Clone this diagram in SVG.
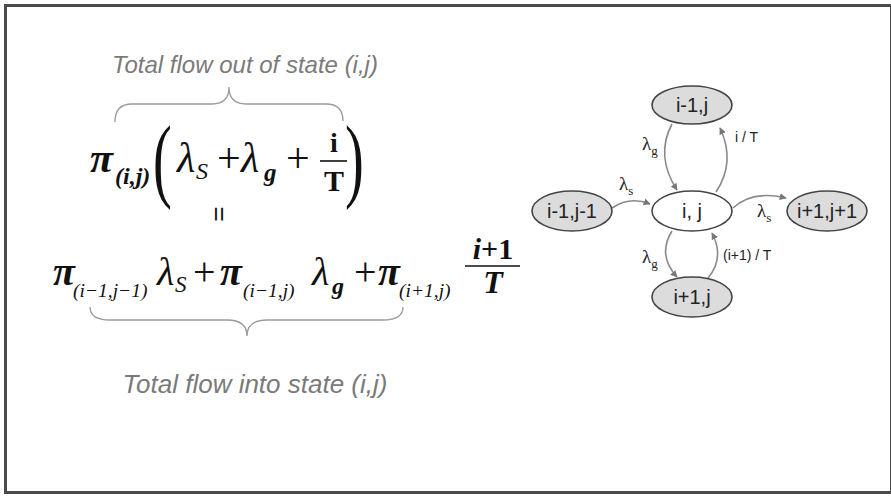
<svg xmlns="http://www.w3.org/2000/svg" width="891" height="496" viewBox="0 0 891 496">
<defs>
<style>
.math{font-family:"Liberation Serif","Times New Roman",serif;fill:#111}
.gr{font-family:"Liberation Serif",serif;font-style:italic;font-weight:bold}
.lm{font-family:"Liberation Serif",serif;font-style:italic}
.sub{font-family:"Liberation Serif",serif;font-style:italic;font-weight:bold}
.sub2{font-family:"Liberation Serif",serif;font-style:italic}
.cap{font-family:"Liberation Sans",Arial,sans-serif;font-style:italic;fill:#7a7a7a}
.brace{fill:none;stroke:#9a9a9a;stroke-width:1.3}
.node ellipse{stroke:#444;stroke-width:1.6}
.node text{font-family:"Liberation Sans",Arial,sans-serif;font-size:20px;fill:#222;text-anchor:middle}
.edge{fill:none;stroke:#8a8a8a;stroke-width:1.6;marker-end:url(#ah)}
.lbl{font-family:"Liberation Sans",Arial,sans-serif;font-size:14px;fill:#222}
.lam{font-family:"Liberation Serif",serif;font-size:19px;fill:#222}
</style>
<marker id="ah" viewBox="0 0 10 10" refX="9" refY="5" markerWidth="7" markerHeight="7" orient="auto" markerUnits="userSpaceOnUse">
<path d="M0,0 L10,5 L0,10 z" fill="#777"/>
</marker>
</defs>
<rect x="0" y="0" width="891" height="496" fill="#fff"/>
<rect x="5.5" y="5.5" width="886" height="487" fill="none" stroke="#4a4a4a" stroke-width="3"/>

<g id="caption-out">
<text class="cap" x="245" y="73" font-size="24" text-anchor="middle">Total flow out of state (i,j)</text>
<path class="brace" d="M115,122 Q115,104 132,104 L212,104 Q229,104 229,87 Q229,104 246,104 L326,104 Q343,104 343,121"/>
</g>

<g id="equation-out" class="math">
<text class="gr" x="90" y="172" font-size="42">π</text>
<text class="sub" x="115" y="184" font-size="24">(i,j)</text>
<text x="0" y="0" font-size="94" transform="translate(153,190) scale(0.6,1)">(</text>
<text class="lm" x="177" y="172" font-size="42">λ</text>
<text x="196" y="179" font-size="24" font-style="italic">S</text>
<text x="217" y="172" font-size="42">+</text>
<text class="lm" x="241" y="172" font-size="42">λ</text>
<text x="264" y="181" font-size="25" font-style="italic" font-weight="bold">g</text>
<text x="286" y="172" font-size="42">+</text>
<text x="334" y="152" font-size="28" font-weight="bold" text-anchor="middle">i</text>
<line x1="320" y1="161" x2="347" y2="161" stroke="#111" stroke-width="1.6"/>
<text x="334" y="191" font-size="30" font-weight="bold" text-anchor="middle">T</text>
<text x="0" y="0" font-size="94" transform="translate(345,190) scale(0.6,1)">)</text>
</g>

<g id="equals">
<text x="0" y="0" font-family="Liberation Sans,Arial,sans-serif" font-size="26" fill="#111" text-anchor="middle" transform="translate(220,214) rotate(90)" dy="9">=</text>
</g>

<g id="equation-in" class="math">
<text class="gr" x="53" y="285" font-size="40">π</text>
<text class="sub2" x="73" y="297" font-size="19.5">(i−1,j−1)</text>
<text class="lm" x="157" y="285" font-size="40">λ</text>
<text x="175" y="292" font-size="23" font-style="italic">S</text>
<text x="193" y="285" font-size="40">+</text>
<text class="gr" x="220" y="285" font-size="40">π</text>
<text class="sub2" x="243" y="297" font-size="19.5">(i−1,j)</text>
<text class="lm" x="312" y="285" font-size="40">λ</text>
<text x="332" y="294" font-size="24" font-style="italic" font-weight="bold">g</text>
<text x="354" y="285" font-size="40">+</text>
<text class="gr" x="378" y="285" font-size="40">π</text>
<text class="sub2" x="399" y="297" font-size="19.5">(i+1,j)</text>
<text x="493" y="259" font-size="30" font-weight="bold" text-anchor="middle"><tspan font-style="italic">i</tspan>+1</text>
<line x1="465" y1="266" x2="520" y2="266" stroke="#111" stroke-width="1.6"/>
<text x="493" y="293" font-size="32" font-weight="bold" font-style="italic" text-anchor="middle">T</text>
</g>

<g id="caption-in">
<path class="brace" d="M90,307 Q90,320 110,320 L227,320 Q247,320 247,336 Q247,320 267,320 L383,320 Q403,320 403,307"/>
<text class="cap" x="255" y="393" font-size="26" text-anchor="middle">Total flow into state (i,j)</text>
</g>

<g id="connectors">
<path class="edge" d="M672,124 Q655,156 677,190"/>
<path class="edge" d="M716,192 Q736,162 720,128"/>
<path class="edge" d="M612,208 Q630,196 650,204"/>
<path class="edge" d="M733,208 Q752,190 786,198"/>
<path class="edge" d="M672,231 Q657,255 677,277"/>
<path class="edge" d="M708,278 Q725,258 712,233"/>
</g>

<g id="edge-labels">
<text class="lam" x="642" y="150">λ<tspan font-size="13" dy="5">g</tspan></text>
<text class="lam" x="619" y="190">λ<tspan font-size="13" dy="5">s</tspan></text>
<text class="lbl" x="735" y="142">i / T</text>
<text class="lam" x="757" y="217">λ<tspan font-size="13" dy="5">s</tspan></text>
<text class="lam" x="642" y="263">λ<tspan font-size="13" dy="5">g</tspan></text>
<text class="lbl" x="723" y="260">(i+1) / T</text>
</g>

<g id="node-im1j" class="node">
<ellipse cx="692" cy="105" rx="40" ry="19" fill="#dcdcdc"/>
<text x="692" y="112">i-1,j</text>
</g>
<g id="node-ij" class="node">
<ellipse cx="692" cy="211" rx="40" ry="20" fill="#fff"/>
<text x="692" y="218">i, j</text>
</g>
<g id="node-im1jm1" class="node">
<ellipse cx="572" cy="211" rx="40" ry="20" fill="#dcdcdc"/>
<text x="572" y="218">i-1,j-1</text>
</g>
<g id="node-ip1jp1" class="node">
<ellipse cx="827" cy="211" rx="40" ry="20" fill="#dcdcdc"/>
<text x="827" y="218">i+1,j+1</text>
</g>
<g id="node-ip1j" class="node">
<ellipse cx="692" cy="297" rx="40" ry="20" fill="#dcdcdc"/>
<text x="692" y="304">i+1,j</text>
</g>
</svg>
